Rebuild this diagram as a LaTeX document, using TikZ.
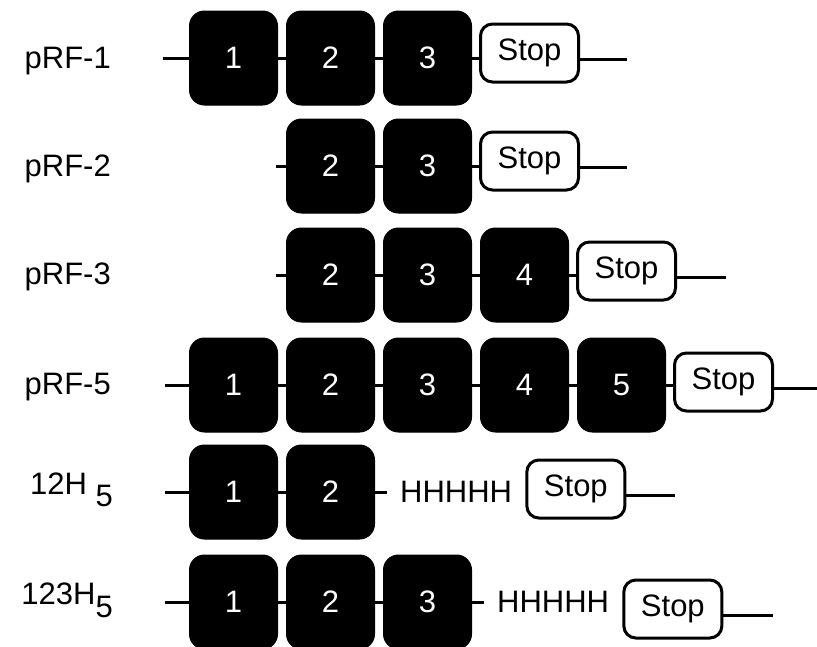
\documentclass[tikz,border=0pt]{standalone}
\usepackage{fontspec}
\setmainfont{Liberation Sans}
\usetikzlibrary{positioning}
\tikzset{
  exon/.style={rectangle, rounded corners=15pt, draw=black, fill=black, line width=1pt,
    minimum width=88pt, minimum height=94pt, inner sep=0pt, text=white},
  stopbox/.style={rectangle, rounded corners=12pt, draw=black, fill=white, line width=3pt,
    minimum width=98pt, minimum height=58pt, inner sep=0pt},
  histag/.style={inner ysep=0pt, inner xsep=13pt},
  nombre/.style={anchor=base east, inner sep=0pt},
  enlace/.style={line width=3pt}
}

\begin{document}
\begin{tikzpicture}[x=1pt, y=-1pt, node distance=8pt, font=\fontsize{31}{36}\selectfont]
  \useasboundingbox (0,0) rectangle (817,646);

  \node[nombre] (n1) at (111,68) {pRF-1};
  \coordinate (a0) at (163,58);
  \node[exon] (a1) at (233.5,58) {1};
  \node[exon, right=of a1] (a2) {2};
  \node[exon, right=of a2] (a3) {3};
  \node[stopbox, right=7pt of a3, yshift=5pt] (a4) {Stop};
  \coordinate (a5) at (627,59);
  \draw[enlace] (a0) -- (a1) -- (a2) -- (a3) -- (a3 -| a4.west);
  \draw[enlace] (a4.east |- a5) -- (a5);

  \node[nombre] (n2) at (111,176) {pRF-2};
  \coordinate (b0) at (276,166);
  \node[exon] (b1) at (330.5,166) {2};
  \node[exon, right=of b1] (b2) {3};
  \node[stopbox, right=7pt of b2, yshift=5pt] (b3) {Stop};
  \coordinate (b4) at (627,167);
  \draw[enlace] (b0) -- (b1) -- (b2) -- (b2 -| b3.west);
  \draw[enlace] (b3.east |- b4) -- (b4);

  \node[nombre] (n3) at (111,284) {pRF-3};
  \coordinate (c0) at (276,275);
  \node[exon] (c1) at (330.5,275) {2};
  \node[exon, right=of c1] (c2) {3};
  \node[exon, right=of c2] (c3) {4};
  \node[stopbox, right=7pt of c3, yshift=4pt] (c4) {Stop};
  \coordinate (c5) at (726,277);
  \draw[enlace] (c0) -- (c1) -- (c2) -- (c3) -- (c3 -| c4.west);
  \draw[enlace] (c4.east |- c5) -- (c5);

  \node[nombre] (n4) at (111,394) {pRF-5};
  \coordinate (d0) at (165,385);
  \node[exon] (d1) at (233.5,385) {1};
  \node[exon, right=of d1] (d2) {2};
  \node[exon, right=of d2] (d3) {3};
  \node[exon, right=of d3] (d4) {4};
  \node[exon, right=of d4] (d5) {5};
  \node[stopbox, right=7pt of d5, yshift=3pt] (d6) {Stop};
  \coordinate (d7) at (817,388);
  \draw[enlace] (d0) -- (d1) -- (d2) -- (d3) -- (d4) -- (d5) -- (d5 -| d6.west);
  \draw[enlace] (d6.east |- d7) -- (d7);

  \node[nombre] (n5) at (113,494) {12H \raisebox{-12pt}{5}};
  \coordinate (e0) at (165,492);
  \node[exon] (e1) at (233.5,492) {1};
  \node[exon, right=of e1] (e2) {2};
  \node[histag, right=12pt of e2] (e3) {HHHHH};
  \node[stopbox, right=0pt of e3, yshift=3pt] (e4) {Stop};
  \coordinate (e5) at (675,495);
  \draw[enlace] (e0) -- (e1) -- (e2) -- (e3);
  \draw[enlace] (e4.east |- e5) -- (e5);

  \node[nombre] (n6) at (113,604) {123H\raisebox{-13pt}{5}};
  \coordinate (f0) at (165,602);
  \node[exon] (f1) at (233.5,602) {1};
  \node[exon, right=of f1] (f2) {2};
  \node[exon, right=of f2] (f3) {3};
  \node[histag, right=12pt of f3] (f4) {HHHHH};
  \node[stopbox, right=0pt of f4, yshift=-7pt] (f5) {Stop};
  \coordinate (f6) at (773,615);
  \draw[enlace] (f0) -- (f1) -- (f2) -- (f3) -- (f4);
  \draw[enlace] (f5.east |- f6) -- (f6);
\end{tikzpicture}
\end{document}
